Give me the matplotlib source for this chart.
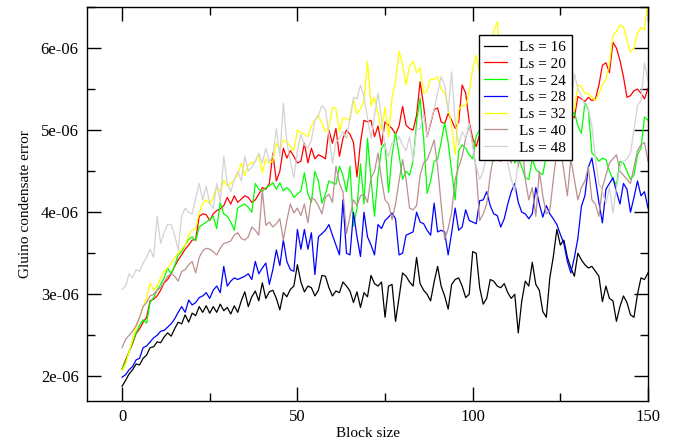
import numpy as np
import matplotlib
matplotlib.use("Agg")
import matplotlib.pyplot as plt
from matplotlib.ticker import MultipleLocator

plt.rcParams['font.family'] = ['Liberation Serif', 'DejaVu Serif']

labels = ["Ls = 16", "Ls = 20", "Ls = 24", "Ls = 28", "Ls = 32", "Ls = 40", "Ls = 48"]
colors = ["#000000", "#ff0000", "#00ff00", "#0000ff", "#ffff00", "#bc8f8f", "#d3d3d3"]

block_size = list(range(0, 151))

# values in units of 1e-6
ls16 = [1.88, 1.95, 2.03, 2.08, 2.15, 2.14, 2.22, 2.26, 2.35, 2.36, 2.42, 2.41, 2.48, 2.53, 2.49, 2.58, 2.66, 2.64, 2.75, 2.66,
        2.77, 2.74, 2.85, 2.78, 2.86, 2.77, 2.85, 2.78, 2.88, 2.80, 2.84, 2.76, 2.86, 2.78, 2.92, 3.03, 2.85, 2.97, 3.04, 2.92,
        3.14, 2.95, 3.03, 3.05, 2.95, 2.81, 3.02, 2.97, 3.06, 3.10, 3.36, 3.15, 3.03, 3.10, 3.08, 2.98, 3.05, 3.23, 3.22, 3.08,
        2.98, 3.04, 3.02, 3.15, 3.10, 3.04, 2.90, 3.03, 2.84, 3.02, 2.97, 3.23, 3.13, 3.10, 3.15, 2.72, 3.10, 3.12, 2.67, 2.96,
        3.26, 3.22, 3.15, 3.10, 3.45, 3.13, 3.05, 3.00, 2.92, 3.15, 3.34, 3.10, 2.98, 2.82, 3.12, 3.18, 3.20, 3.10, 2.96, 3.00,
        3.52, 3.50, 3.08, 2.88, 2.95, 3.18, 3.16, 3.10, 3.08, 3.13, 3.02, 2.95, 3.00, 2.53, 2.92, 3.16, 3.10, 3.39, 3.12, 3.05,
        2.79, 2.72, 3.20, 3.46, 3.79, 3.60, 3.66, 3.45, 3.32, 3.22, 3.50, 3.42, 3.36, 3.32, 3.34, 3.28, 3.22, 2.91, 3.10, 2.95,
        2.92, 2.67, 2.85, 2.98, 2.90, 2.75, 2.72, 3.00, 3.20, 3.18, 3.26]

ls20 = [2.09, 2.20, 2.30, 2.40, 2.52, 2.58, 2.66, 2.72, 2.92, 2.94, 2.98, 3.05, 3.14, 3.18, 3.25, 3.34, 3.42, 3.48, 3.55, 3.60,
        3.66, 3.67, 3.95, 3.98, 3.97, 3.90, 3.98, 4.02, 4.04, 4.08, 4.18, 4.10, 4.20, 4.12, 4.16, 4.20, 4.18, 4.12, 4.15, 4.22,
        4.30, 4.28, 4.35, 4.72, 4.38, 4.50, 4.78, 4.66, 4.75, 4.68, 4.60, 4.62, 4.84, 4.60, 4.78, 4.65, 4.70, 4.68, 4.65, 5.00,
        4.84, 5.02, 4.68, 4.90, 5.00, 4.95, 4.85, 4.43, 4.85, 5.12, 5.10, 5.12, 4.92, 5.05, 4.82, 5.10, 5.06, 5.02, 4.95, 5.05,
        5.29, 5.06, 5.02, 5.00, 5.18, 5.59, 5.30, 4.92, 5.08, 5.25, 5.27, 5.10, 5.08, 5.20, 5.12, 5.02, 5.10, 5.55, 5.45, 5.10,
        4.90, 4.80, 4.95, 5.10, 5.20, 5.15, 5.00, 4.80, 4.62, 4.85, 5.10, 5.25, 5.20, 5.35, 5.15, 5.05, 5.30, 5.40, 5.25, 5.10,
        5.30, 5.45, 5.35, 5.20, 5.30, 5.40, 5.28, 5.22, 5.18, 5.15, 5.41, 5.38, 5.35, 5.40, 5.36, 5.38, 5.55, 5.79, 5.82, 5.70,
        6.07, 6.00, 5.85, 5.65, 5.40, 5.42, 5.48, 5.50, 5.45, 5.38, 5.51]

ls24 = [2.09, 2.18, 2.30, 2.42, 2.53, 2.62, 2.69, 2.65, 2.90, 2.96, 3.05, 3.12, 3.20, 3.32, 3.25, 3.35, 3.48, 3.52, 3.60, 3.67,
        3.70, 3.65, 3.82, 3.85, 3.88, 3.91, 3.95, 3.80, 4.12, 3.98, 3.95, 3.88, 3.78, 4.05, 4.08, 4.10, 4.06, 4.00, 4.35, 4.28,
        4.25, 4.30, 4.32, 4.36, 4.28, 4.36, 4.26, 4.30, 4.26, 4.18, 4.22, 4.26, 4.48, 4.22, 4.12, 4.50, 4.38, 4.11, 4.22, 4.38,
        4.36, 4.34, 4.56, 4.45, 4.25, 4.56, 3.83, 4.05, 4.59, 4.10, 4.90, 4.40, 3.95, 4.45, 4.78, 4.84, 4.24, 4.70, 4.97, 4.70,
        4.40, 4.50, 4.45, 4.62, 5.10, 5.39, 4.90, 4.23, 4.38, 4.62, 4.65, 4.85, 5.09, 4.85, 4.50, 4.15, 4.75, 4.82, 4.78, 4.70,
        4.65, 4.93, 5.00, 5.10, 4.90, 4.75, 4.62, 4.70, 4.85, 4.70, 4.62, 4.80, 4.60, 4.66, 4.55, 4.42, 4.40, 4.65, 4.52, 4.48,
        4.46, 4.70, 4.85, 4.95, 5.05, 4.90, 5.10, 5.20, 5.15, 5.22, 5.05, 4.96, 5.33, 5.25, 4.72, 4.68, 4.62, 4.66, 4.64, 4.50,
        4.40, 4.33, 4.62, 4.60, 4.50, 4.40, 4.45, 4.70, 4.78, 5.16, 5.12]

ls28 = [1.99, 2.02, 2.08, 2.12, 2.20, 2.22, 2.35, 2.37, 2.42, 2.47, 2.50, 2.55, 2.56, 2.60, 2.64, 2.70, 2.78, 2.85, 2.78, 2.93,
        2.87, 2.90, 2.96, 2.98, 3.02, 2.95, 3.05, 3.10, 3.02, 3.34, 3.10, 3.16, 3.20, 3.18, 3.20, 3.22, 3.25, 3.18, 3.40, 3.25,
        3.32, 3.38, 3.12, 3.30, 3.54, 3.35, 3.66, 3.40, 3.30, 3.28, 3.79, 3.55, 3.79, 3.55, 3.75, 3.24, 3.70, 3.74, 3.78, 3.85,
        3.72, 3.60, 3.48, 4.15, 3.50, 3.48, 4.00, 3.70, 3.46, 4.00, 3.70, 3.60, 3.48, 3.85, 3.80, 3.90, 3.94, 3.99, 3.92, 3.48,
        3.50, 3.72, 3.74, 3.76, 4.00, 3.88, 3.86, 3.78, 3.72, 4.11, 3.76, 3.78, 3.76, 3.48, 3.75, 4.05, 3.78, 3.82, 4.03, 3.90,
        3.88, 3.86, 4.14, 4.15, 4.25, 4.08, 3.98, 3.96, 3.82, 3.92, 4.10, 4.25, 4.35, 4.12, 4.00, 3.98, 3.92, 3.98, 4.30, 4.10,
        3.94, 4.08, 3.98, 3.92, 3.85, 3.73, 3.62, 3.40, 3.26, 3.45, 3.68, 4.07, 4.20, 4.55, 4.66, 4.40, 4.12, 3.87, 4.28, 4.35,
        4.42, 4.25, 4.10, 4.35, 4.28, 4.00, 4.18, 4.38, 4.20, 4.25, 4.05]

ls32 = [2.07, 2.15, 2.30, 2.45, 2.60, 2.72, 2.85, 2.95, 3.14, 3.05, 3.10, 3.20, 3.28, 3.32, 3.38, 3.45, 3.50, 3.55, 3.60, 3.72,
        3.78, 3.80, 4.00, 4.11, 4.15, 4.10, 4.18, 4.32, 4.25, 4.39, 4.32, 4.35, 4.40, 4.45, 4.60, 4.45, 4.58, 4.60, 4.62, 4.70,
        4.48, 4.65, 4.60, 4.62, 4.84, 4.76, 4.88, 4.86, 4.80, 4.75, 5.00, 4.97, 4.95, 4.92, 5.05, 5.12, 5.18, 5.08, 4.98, 5.04,
        5.28, 5.26, 4.98, 5.15, 5.14, 5.12, 5.37, 5.20, 5.26, 5.36, 5.84, 5.30, 5.40, 5.20, 5.00, 5.28, 4.92, 5.40, 5.60, 5.96,
        5.80, 5.55, 5.78, 5.84, 5.70, 5.76, 5.45, 5.48, 5.62, 5.62, 5.65, 5.50, 5.45, 5.28, 5.05, 4.70, 5.25, 5.30, 5.30, 5.45,
        5.75, 5.91, 5.68, 5.80, 5.95, 6.05, 6.20, 6.32, 5.90, 5.60, 5.40, 5.30, 5.50, 5.35, 5.45, 5.60, 5.40, 5.30, 5.25, 5.40,
        5.35, 5.45, 5.30, 5.38, 5.25, 5.30, 5.20, 5.25, 5.27, 5.24, 5.55, 5.53, 5.45, 5.44, 5.40, 5.36, 5.45, 5.55, 5.62, 5.80,
        6.16, 6.20, 6.28, 6.26, 6.10, 5.95, 6.00, 6.18, 6.25, 6.22, 6.60]

ls40 = [2.35, 2.45, 2.50, 2.55, 2.62, 2.72, 2.85, 2.90, 2.98, 3.00, 3.05, 3.08, 3.15, 3.22, 3.25, 3.22, 3.16, 3.28, 3.30, 3.36,
        3.40, 3.26, 3.45, 3.53, 3.56, 3.55, 3.52, 3.48, 3.56, 3.62, 3.63, 3.65, 3.72, 3.75, 3.68, 3.66, 3.70, 3.82, 3.78, 3.72,
        4.27, 3.84, 3.88, 3.82, 3.86, 3.92, 3.66, 3.90, 4.10, 3.99, 4.05, 3.96, 4.10, 3.87, 4.18, 4.15, 4.08, 3.98, 4.18, 4.22,
        4.12, 4.56, 4.35, 4.25, 3.74, 3.95, 4.15, 4.08, 4.20, 4.22, 4.12, 4.42, 4.50, 4.72, 4.40, 4.15, 4.10, 3.91, 4.10, 4.38,
        4.64, 4.40, 4.05, 4.03, 4.08, 4.45, 4.60, 4.64, 4.75, 4.88, 4.55, 4.10, 3.67, 3.80, 4.00, 4.40, 4.55, 4.68, 4.90, 5.05,
        4.85, 4.50, 3.90, 3.98, 4.10, 4.45, 4.70, 4.88, 4.95, 4.80, 4.70, 4.60, 4.85, 4.55, 4.90, 4.40, 4.15, 4.30, 3.95, 4.50,
        4.20, 3.98, 4.02, 4.40, 4.75, 4.80, 4.50, 4.20, 4.65, 4.40, 4.15, 4.30, 4.38, 4.55, 4.15, 4.10, 3.95, 4.30, 4.45, 4.60,
        4.65, 4.70, 4.50, 4.45, 4.40, 4.35, 4.55, 4.75, 4.82, 4.85, 4.62]

ls48 = [3.06, 3.10, 3.25, 3.20, 3.30, 3.28, 3.38, 3.45, 3.55, 3.45, 3.95, 3.62, 3.75, 3.85, 3.85, 3.72, 3.54, 3.95, 4.05, 4.00,
        3.98, 4.17, 4.35, 4.15, 4.32, 4.10, 4.05, 4.35, 4.12, 4.68, 4.35, 4.25, 4.40, 4.50, 4.38, 4.68, 4.50, 4.55, 4.62, 4.72,
        4.60, 4.78, 4.62, 4.68, 5.02, 4.68, 5.33, 4.85, 4.62, 4.42, 4.75, 4.95, 4.82, 4.78, 4.88, 5.12, 5.18, 5.30, 5.25, 4.95,
        4.60, 4.85, 4.90, 4.98, 4.90, 5.15, 5.40, 5.38, 5.55, 5.40, 5.15, 4.90, 5.18, 5.45, 5.15, 4.80, 4.68, 4.85, 4.82, 4.92,
        4.82, 4.75, 4.92, 4.62, 5.00, 5.02, 5.20, 4.92, 5.10, 5.25, 5.45, 5.65, 5.55, 5.22, 5.71, 5.10, 4.82, 4.98, 4.90, 5.08,
        4.80, 4.56, 4.40, 4.50, 4.70, 4.85, 5.00, 4.90, 4.65, 4.85, 4.60, 4.40, 4.26, 4.65, 4.68, 4.80, 4.95, 5.10, 4.90, 5.00,
        5.15, 5.20, 5.10, 5.25, 5.35, 5.45, 5.55, 5.60, 5.30, 5.69, 5.50, 5.42, 5.30, 5.25, 5.05, 4.65, 4.35, 4.25, 4.10, 4.30,
        3.99, 4.30, 4.55, 4.62, 4.65, 4.72, 5.00, 5.30, 5.36, 5.82, 5.60]

series = [ls16, ls20, ls24, ls28, ls32, ls40, ls48]
scale = 1e-6

fig = plt.figure(figsize=(6.81, 4.43), dpi=100)
ax = fig.add_axes([87/681, 1 - 401/443, (648 - 87)/681, (401 - 7)/443])

x = np.array(block_size)
for vals, col, lab in zip(series, colors, labels):
    ax.plot(x, np.array(vals) * scale, color=col, lw=0.9, label=lab)

ax.set_xlim(-10, 150)
ax.set_ylim(1.7e-6, 6.5e-6)
ax.xaxis.set_major_locator(MultipleLocator(50))
ax.xaxis.set_minor_locator(MultipleLocator(25))
ax.yaxis.set_major_locator(MultipleLocator(1e-6))
ax.yaxis.set_minor_locator(MultipleLocator(0.5e-6))
ax.yaxis.set_major_formatter(plt.FuncFormatter(lambda v, p: "%de-06" % round(v / 1e-6)))

ax.tick_params(which='both', direction='in', top=True, right=True, labelsize=12, width=1.0)
ax.tick_params(which='major', length=10, pad=6)
ax.tick_params(which='minor', length=6)
for sp in ax.spines.values():
    sp.set_linewidth(1.0)

ax.set_xlabel("Block size", fontsize=11, labelpad=1)
ax.set_ylabel("Gluino condensate error", fontsize=11, labelpad=6)

leg = ax.legend(loc='upper left', bbox_to_anchor=((479 - 87) / 561, (401 - 35) / 394),
                borderaxespad=0, fontsize=11, frameon=True, fancybox=False, framealpha=1,
                handlelength=1.5, handletextpad=0.8, labelspacing=0.2, borderpad=0.35)
leg.get_frame().set_edgecolor('black')
leg.get_frame().set_linewidth(1.0)

fig.savefig("out.png", dpi=100)
